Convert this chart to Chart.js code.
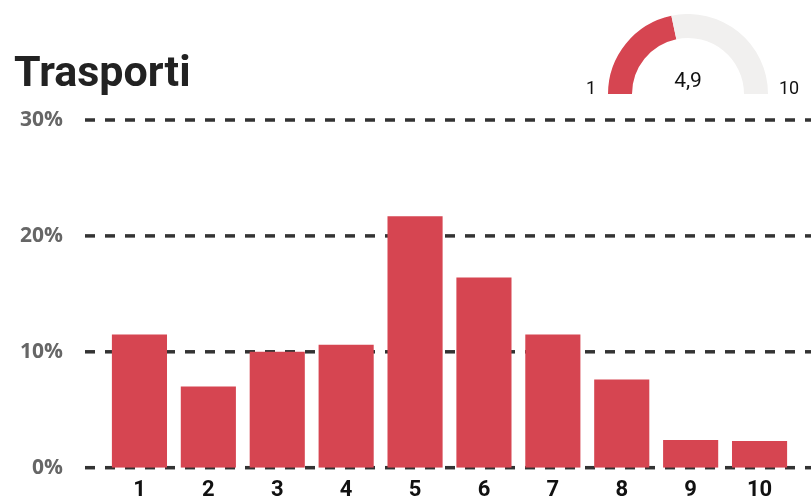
<!DOCTYPE html>
<html>
<head>
<meta charset="utf-8">
<script src="https://cdn.jsdelivr.net/npm/chart.js@4.4.1/dist/chart.umd.min.js"></script>
<style>
  html, body { margin: 0; padding: 0; background: #fff; }
  #wrap { position: relative; width: 811px; height: 501px; overflow: hidden; }
  #main { position: absolute; left: 0; top: 0; }
  #gauge { position: absolute; left: 608px; top: 14px; }
  .txt { position: absolute; white-space: nowrap; line-height: 1; }
  #title { left: 14px; top: 46px; font: 700 43px Roboto, sans-serif; color: #222; }
  #gMin { left: 586px; top: 77px; font: 400 18px Roboto, sans-serif; color: #111; }
  #gMax { left: 779px; top: 77px; font: 400 18px Roboto, sans-serif; color: #111; }
  #gVal { left: 668px; top: 68px; width: 40px; text-align: center; font: 400 21px Roboto, sans-serif; color: #111; }
</style>
</head>
<body>
<div id="wrap">
  <canvas id="main" width="811" height="501"></canvas>
  <canvas id="gauge" width="160" height="80"></canvas>
  <div class="txt" id="title">Trasporti</div>
  <div class="txt" id="gMin"></div>
  <div class="txt" id="gMax"></div>
  <div class="txt" id="gVal"></div>
</div>
<script>
const categories = ['1', '2', '3', '4', '5', '6', '7', '8', '9', '10'];
const values = [11.5, 7.0, 10.0, 10.6, 21.7, 16.4, 11.5, 7.6, 2.4, 2.3];
const yTickValues = [0, 10, 20, 30];
const gaugeMin = 1;
const gaugeMax = 10;
const gaugeValue = 4.9;

const barColor = '#d64551';

const dashedGrid = {
  id: 'dashedGrid',
  beforeDatasetsDraw(chart) {
    const ctx = chart.ctx;
    const y = chart.scales.y;
    ctx.save();
    ctx.strokeStyle = '#333333';
    ctx.lineWidth = 3.5;
    ctx.setLineDash([10, 10]);
    yTickValues.forEach(v => {
      const py = y.getPixelForValue(v);
      ctx.beginPath();
      ctx.moveTo(85, py);
      ctx.lineTo(chart.width, py);
      ctx.stroke();
    });
    ctx.restore();
  }
};

new Chart(document.getElementById('main'), {
  type: 'bar',
  data: {
    labels: categories,
    datasets: [{
      data: values,
      backgroundColor: barColor,
      borderWidth: 0,
      barPercentage: 0.8,
      categoryPercentage: 1.0
    }]
  },
  options: {
    responsive: false,
    animation: false,
    devicePixelRatio: 1,
    layout: { padding: { top: 120, right: 17, bottom: 0, left: 0 } },
    plugins: { legend: { display: false }, tooltip: { enabled: false }, title: { display: false } },
    scales: {
      x: {
        grid: { display: false, drawTicks: false },
        border: { display: false },
        ticks: { color: '#111', font: { family: 'Roboto', weight: '700', size: 22 }, padding: 10 },
        afterFit(s) { s.height = 33.3; s.paddingLeft = 0; s.paddingRight = 0; }
      },
      y: {
        min: 0, max: 30,
        afterBuildTicks(s) { s.ticks = yTickValues.map(v => ({ value: v })); },
        grid: { display: false, drawTicks: false },
        border: { display: false },
        ticks: {
          color: '#666',
          font: { family: 'Open Sans', weight: '700', size: 21 },
          padding: 42,
          callback: v => v + '%'
        },
        afterFit(s) { s.width = 105; s.paddingTop = 0; s.paddingBottom = 0; }
      }
    }
  },
  plugins: [dashedGrid]
});

new Chart(document.getElementById('gauge'), {
  type: 'doughnut',
  data: {
    labels: ['valore', 'resto'],
    datasets: [{
      data: [gaugeValue - gaugeMin, gaugeMax - gaugeValue],
      backgroundColor: [barColor, '#f1f0ef'],
      borderWidth: 0
    }]
  },
  options: {
    responsive: false,
    animation: false,
    devicePixelRatio: 1,
    circumference: 180,
    rotation: -90,
    cutout: '70%',
    plugins: { legend: { display: false }, tooltip: { enabled: false } }
  }
});

document.getElementById('gMin').textContent = String(gaugeMin);
document.getElementById('gMax').textContent = String(gaugeMax);
document.getElementById('gVal').textContent = String(gaugeValue).replace('.', ',');
</script>
</body>
</html>
